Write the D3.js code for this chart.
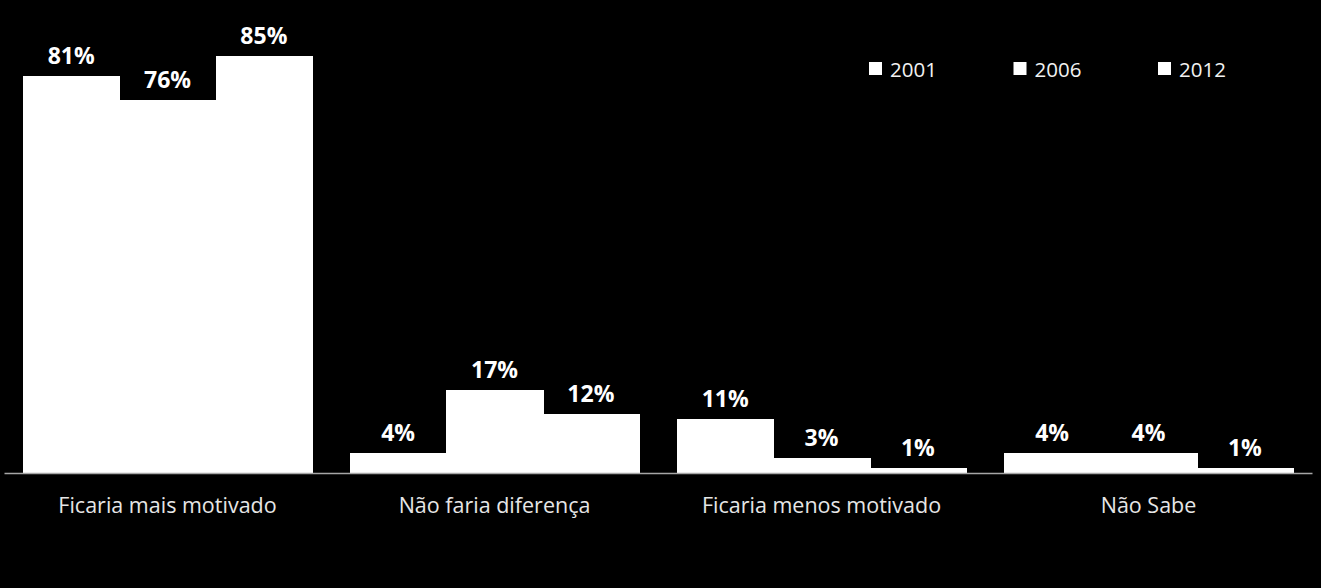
<!DOCTYPE html>
<html>
<head>
<meta charset="utf-8">
<script src="https://cdn.jsdelivr.net/npm/d3@7"></script>
<style>
  html, body { margin: 0; padding: 0; background: #000; }
  svg { display: block; }
</style>
</head>
<body>
<svg id="chart" width="1321" height="588"></svg>
<script>
const categories = ["Ficaria mais motivado", "Não faria diferença", "Ficaria menos motivado", "Não Sabe"];
const seriesNames = ["2001", "2006", "2012"];
const values2001 = [81, 4, 11, 4];
const values2006 = [76, 17, 3, 4];
const values2012 = [85, 12, 1, 1];
const seriesValues = [values2001, values2006, values2012];

const W = 1321, H = 588;
const svg = d3.select("#chart");
svg.append("rect").attr("width", W).attr("height", H).attr("fill", "#000");

const x0 = d3.scaleBand().domain(categories).range([4, 1312]).paddingInner(0.116).paddingOuter(0.058);
const x1 = d3.scaleBand().domain(seriesNames).range([0, x0.bandwidth()]).padding(0);
const y = d3.scaleLinear().domain([0, 85]).range([473, 56]);

const data = [];
categories.forEach((c, i) => {
  seriesNames.forEach((s, j) => {
    data.push({ cat: c, series: s, value: seriesValues[j][i] });
  });
});

const g = svg.append("g");
g.selectAll("rect.bar").data(data).enter().append("rect")
  .attr("class", "bar")
  .attr("x", d => Math.round(x0(d.cat) + x1(d.series)))
  .attr("y", d => Math.round(y(d.value)))
  .attr("width", d => Math.round(x0(d.cat) + x1(d.series) + x1.bandwidth()) - Math.round(x0(d.cat) + x1(d.series)) + 0.5)
  .attr("height", d => Math.round(y(0)) - Math.round(y(d.value)))
  .attr("fill", "#fff")
  .attr("shape-rendering", "crispEdges");

g.selectAll("text.val").data(data).enter().append("text")
  .attr("class", "val")
  .attr("x", d => x0(d.cat) + x1(d.series) + x1.bandwidth() / 2)
  .attr("y", d => y(d.value) - 12)
  .attr("text-anchor", "middle")
  .attr("fill", "#fff")
  .style("font-family", "'Open Sans', sans-serif")
  .style("font-weight", "bold")
  .style("font-size", "23px")
  .text(d => d.value + "%");

// x axis
const xAxis = d3.axisBottom(x0).tickSize(0).tickPadding(0);
const ax = svg.append("g").attr("transform", `translate(0,${y(0)})`).call(xAxis);
ax.select(".domain").attr("stroke", "#a6a6a6").attr("stroke-width", 1.5);
ax.selectAll("text")
  .attr("dy", 0)
  .attr("y", 40)
  .attr("fill", "#e6e6e6")
  .style("font-family", "'Open Sans', sans-serif")
  .style("font-size", "21.5px");

// legend
const legendX = d3.scaleOrdinal().domain(seriesNames).range([869, 1013.5, 1158]);
const lg = svg.append("g");
const li = lg.selectAll("g").data(seriesNames).enter().append("g")
  .attr("transform", d => `translate(${legendX(d)},62)`);
li.append("rect").attr("width", 13).attr("height", 13).attr("fill", "#fff");
li.append("text").attr("x", 21).attr("y", 14.5)
  .attr("fill", "#f2f2f2")
  .style("font-family", "'Open Sans', sans-serif")
  .style("font-size", "20.5px")
  .text(d => d);
</script>
</body>
</html>
